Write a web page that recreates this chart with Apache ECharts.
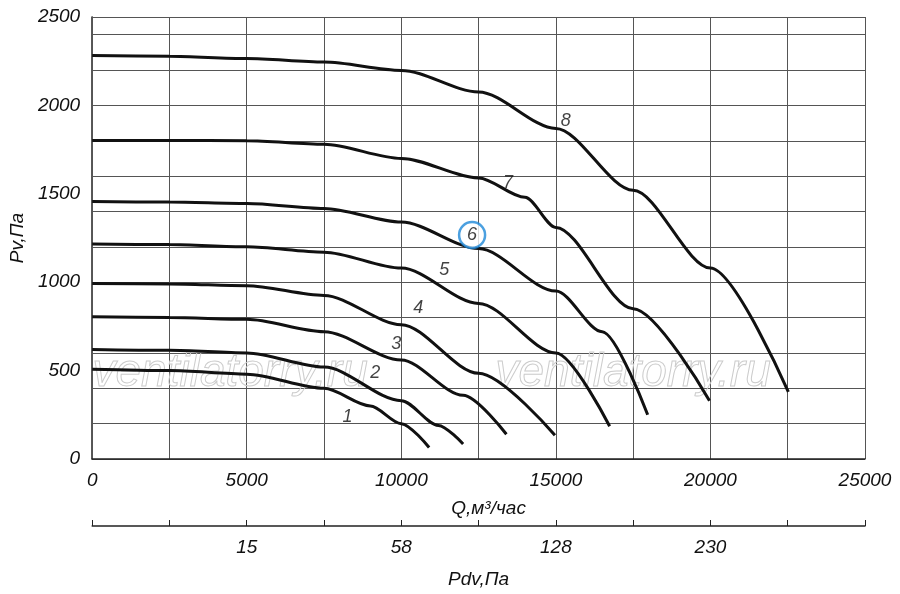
<!DOCTYPE html>
<html><head><meta charset="utf-8">
<script src="https://cdn.jsdelivr.net/npm/echarts@6/dist/echarts.min.js"></script>
<style>html,body{margin:0;background:#fff}#c{width:900px;height:594px}</style></head>
<body><div id="c"></div>
<script>
const curveNames = ['1','2','3','4','5','6','7','8'];
const c1 = [[0,508],[2500,500],[5000,480],[7500,400],[9000,300],[10000,200],[10900,65]];
const c2 = [[0,620],[2500,615],[5000,600],[7500,520],[10000,330],[11200,190],[12000,85]];
const c3 = [[0,804],[2500,800],[5000,790],[7500,720],[10000,560],[12000,360],[13400,140]];
const c4 = [[0,993],[2500,990],[5000,980],[7500,925],[10000,760],[12500,485],[14970,134]];
const c5 = [[0,1216],[2500,1213],[5000,1200],[7500,1170],[10000,1080],[12500,880],[15000,600],[16740,185]];
const c6 = [[0,1456],[2500,1453],[5000,1445],[7500,1417],[10000,1340],[12500,1190],[15000,950],[16500,720],[17970,250]];
const c7 = [[0,1802],[2500,1802],[5000,1800],[7500,1780],[10000,1700],[12500,1590],[14000,1480],[15000,1310],[17500,850],[19970,330]];
const c8 = [[0,2282],[2500,2278],[5000,2265],[7500,2245],[10000,2198],[12500,2076],[15000,1870],[17500,1520],[20000,1080],[22520,380]];
const curves = [c1,c2,c3,c4,c5,c6,c7,c8];
const labelPos = [[8260,240],[9160,486],[9840,653],[10550,854],[11390,1071],[12290,1267],[13450,1562],[15320,1914]];
const pdvTicks = {5000:'15',10000:'58',15000:'128',20000:'230'};
const yLabels = [0,500,1000,1500,2000,2500];

const font = '"Liberation Sans",Arial,sans-serif';
const txt = {fontFamily:font,fontStyle:'italic',fontSize:19,color:'#111'};
const chart = echarts.init(document.getElementById('c'));
const series = curves.map(d=>({type:'line',data:d,smooth:0.3,smoothMonotone:'x',showSymbol:false,
  lineStyle:{color:'#111',width:3},silent:true,z:3}));
series.push({type:'scatter',silent:true,z:5,
  data:labelPos.map((p,i)=>({value:p,name:curveNames[i],symbolSize:i===5?26:0,
    itemStyle:i===5?{color:'#fff',borderColor:'#1e88d8',borderWidth:2.5}:{color:'rgba(0,0,0,0)'}})),
  label:{show:true,position:'inside',formatter:p=>p.name,fontFamily:font,fontStyle:'italic',fontSize:18,color:'#111'}});

chart.setOption({
  animation:false,
  grid:{left:90,right:35,top:17,bottom:129},
  graphic:[
    {type:'text',left:92,top:350,z:1,style:{text:'ventilatorry.ru',font:'italic 46px '+font,fill:'rgba(255,255,255,0)',stroke:'#cccccc',lineWidth:1}},
    {type:'text',left:495,top:350,z:1,style:{text:'ventilatorry.ru',font:'italic 46px '+font,fill:'rgba(255,255,255,0)',stroke:'#cccccc',lineWidth:1}}
  ],
  xAxis:[
    {type:'value',min:0,max:25000,interval:2500,position:'bottom',
     name:'Q,м³/час',nameLocation:'middle',nameGap:40,nameTextStyle:Object.assign({},txt,{padding:[0,0,0,20]}),
     axisLine:{onZero:false,lineStyle:{color:'#222',width:1.5}},axisTick:{show:false},
     axisLabel:Object.assign({},txt,{margin:12,formatter:v=>v%5000===0?String(v):''}),
     splitLine:{show:true,lineStyle:{color:'#555',width:1}}},
    {type:'value',min:0,max:25000,interval:2500,position:'bottom',offset:67,
     name:'Pdv,Па',nameLocation:'middle',nameGap:44,nameTextStyle:txt,
     axisLine:{show:true,onZero:false,lineStyle:{color:'#222',width:1.5}},axisTick:{show:true,inside:true,length:6,lineStyle:{color:'#222'}},
     axisLabel:Object.assign({},txt,{margin:12,formatter:v=>pdvTicks[v]||''}),
     splitLine:{show:false}}
  ],
  yAxis:[
    {type:'value',min:0,max:2500,interval:500,
     name:'Pv,Па',nameLocation:'middle',nameGap:62,nameTextStyle:txt,
     axisLine:{show:true,lineStyle:{color:'#222',width:1.5}},axisTick:{show:false},
     axisLabel:Object.assign({},txt,{margin:12,formatter:v=>yLabels.includes(v)?String(v):''}),
     splitLine:{show:false}},
    {type:'value',min:0,max:2500,interval:200,position:'right',
     axisLine:{show:true,lineStyle:{color:'#555'}},axisTick:{show:false},axisLabel:{show:false},
     splitLine:{show:true,lineStyle:{color:'#555',width:1}}}
  ],
  series:series
});
</script></body></html>
